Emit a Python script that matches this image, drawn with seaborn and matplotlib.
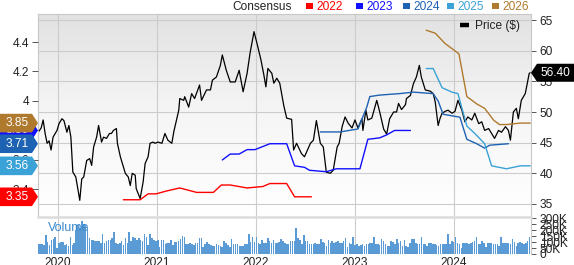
import numpy as np
import matplotlib
matplotlib.use("Agg")
import matplotlib.pyplot as plt
import seaborn as sns
from matplotlib.patches import Polygon, Rectangle
from matplotlib.lines import Line2D
from matplotlib.transforms import IdentityTransform
from matplotlib.ticker import FuncFormatter
from matplotlib.colors import LinearSegmentedColormap

# ---------------- data ----------------
price_year = [2019.80, 2019.83, 2019.85, 2019.87, 2019.89, 2019.91, 2019.93, 2019.95, 2019.99, 2020.01,
              2020.04, 2020.06, 2020.09, 2020.11, 2020.13, 2020.15, 2020.18, 2020.22, 2020.24, 2020.26,
              2020.29, 2020.32, 2020.34, 2020.36, 2020.39, 2020.41, 2020.44, 2020.46, 2020.49, 2020.52,
              2020.54, 2020.56, 2020.59, 2020.60, 2020.63, 2020.65, 2020.68, 2020.71, 2020.73, 2020.75,
              2020.78, 2020.79, 2020.83, 2020.86, 2020.88, 2020.91, 2020.93, 2020.96, 2020.98, 2021.01,
              2021.05, 2021.08, 2021.11, 2021.15, 2021.17, 2021.20, 2021.22, 2021.23, 2021.27, 2021.28,
              2021.32, 2021.35, 2021.38, 2021.43, 2021.45, 2021.50, 2021.54, 2021.56, 2021.60, 2021.64,
              2021.66, 2021.70, 2021.74, 2021.79, 2021.83, 2021.87, 2021.91, 2021.94, 2021.98, 2022.01,
              2022.05, 2022.08, 2022.10, 2022.12, 2022.16, 2022.18, 2022.21, 2022.24, 2022.28, 2022.31,
              2022.36, 2022.38, 2022.41, 2022.46, 2022.49, 2022.55, 2022.58, 2022.61, 2022.65, 2022.68,
              2022.71, 2022.75, 2022.78, 2022.82, 2022.84, 2022.87, 2022.90, 2022.93, 2022.97, 2023.00,
              2023.03, 2023.07, 2023.08, 2023.11, 2023.13, 2023.17, 2023.22, 2023.25, 2023.29, 2023.32,
              2023.35, 2023.39, 2023.42, 2023.44, 2023.47, 2023.51, 2023.52, 2023.56, 2023.59, 2023.62,
              2023.65, 2023.67, 2023.71, 2023.76, 2023.79, 2023.81, 2023.84, 2023.86, 2023.88, 2023.91,
              2023.94, 2023.98, 2024.01, 2024.04, 2024.08, 2024.11, 2024.14, 2024.18, 2024.21, 2024.25,
              2024.28, 2024.31, 2024.35, 2024.38, 2024.41, 2024.45, 2024.48, 2024.52, 2024.55, 2024.57,
              2024.60, 2024.63, 2024.65, 2024.68, 2024.72, 2024.73, 2024.76, 2024.77]
price_value = [46.7, 47.4, 48.7, 46.5, 44.9, 45.3, 43.8, 45.9, 47.0, 48.1,
               48.9, 48.6, 46.7, 47.8, 45.9, 40.2, 39.4, 35.6, 39.1, 39.4,
               42.1, 42.4, 41.3, 44.3, 45.9, 47.8, 45.1, 45.9, 45.7, 46.5,
               46.5, 47.0, 47.3, 44.9, 42.7, 41.6, 40.0, 39.4, 38.0, 40.0,
               39.7, 37.5, 35.9, 38.6, 41.6, 42.7, 44.9, 45.1, 44.9, 45.1,
               44.9, 46.5, 45.4, 44.9, 46.8, 48.9, 50.3, 52.2, 51.9, 52.5,
               50.8, 53.0, 52.2, 54.4, 51.9, 53.6, 53.6, 55.2, 55.7, 57.6,
               59.3, 56.8, 54.9, 54.9, 56.8, 53.3, 56.3, 59.6, 63.1, 61.2,
               58.5, 56.0, 54.1, 57.1, 56.3, 54.7, 55.5, 54.7, 51.1, 49.0,
               48.8, 43.8, 44.9, 43.2, 42.7, 44.9, 45.4, 48.6, 44.9, 44.3,
               40.2, 40.0, 40.5, 44.3, 44.9, 47.6, 49.2, 48.2, 47.4, 48.7,
               47.4, 48.9, 47.0, 50.3, 48.7, 49.0, 51.9, 50.0, 47.2, 46.4,
               48.9, 50.0, 50.0, 51.4, 50.4, 51.2, 52.2, 52.7, 54.6, 55.7,
               57.6, 55.7, 53.6, 53.4, 53.0, 51.7, 47.8, 49.0, 49.8, 50.1,
               50.3, 49.8, 50.1, 51.9, 50.3, 48.4, 49.2, 48.7, 49.8, 48.1,
               48.4, 47.0, 47.3, 46.5, 45.7, 47.0, 46.7, 47.6, 47.0, 45.4,
               50.0, 50.6, 48.9, 51.9, 53.0, 53.8, 56.3, 56.4]

eps_2022_year = [2020.66, 2020.83, 2020.91, 2020.99, 2021.10, 2021.23, 2021.40, 2021.57, 2021.65, 2021.74,
                 2021.91, 2022.07, 2022.14, 2022.31, 2022.39, 2022.56]
eps_2022 = [3.33, 3.33, 3.37, 3.37, 3.39, 3.41, 3.38, 3.38, 3.43, 3.43,
            3.41, 3.42, 3.44, 3.44, 3.35, 3.35]

eps_2023_year = [2021.66, 2021.74, 2021.83, 2021.91, 2021.99, 2022.14, 2022.31, 2022.39, 2022.49, 2022.54,
                 2022.71, 2022.81, 2023.05, 2023.13, 2023.25, 2023.32, 2023.40, 2023.56]
eps_2023 = [3.60, 3.64, 3.64, 3.67, 3.67, 3.71, 3.71, 3.56, 3.55, 3.53,
            3.52, 3.54, 3.54, 3.74, 3.75, 3.77, 3.80, 3.80]

eps_2024_year = [2022.65, 2022.85, 2023.03, 2023.12, 2023.15, 2023.25, 2023.45, 2023.59, 2023.79, 2023.84,
                 2023.89, 2024.06, 2024.13, 2024.23, 2024.31, 2024.36, 2024.55]
eps_2024 = [3.79, 3.79, 3.81, 3.96, 4.03, 4.04, 4.05, 4.06, 4.05, 4.00,
            3.91, 3.89, 3.74, 3.71, 3.68, 3.70, 3.71]

eps_2025_year = [2023.72, 2023.79, 2023.88, 2023.98, 2024.04, 2024.13, 2024.21, 2024.31, 2024.38, 2024.53,
                 2024.67, 2024.77]
eps_2025 = [4.22, 4.22, 4.09, 4.06, 4.05, 3.83, 3.78, 3.71, 3.56, 3.54, 3.56, 3.56]

eps_2026_year = [2023.72, 2023.81, 2023.91, 2023.99, 2024.05, 2024.13, 2024.23, 2024.31, 2024.40, 2024.46,
                 2024.53, 2024.67, 2024.77]
eps_2026 = [4.48, 4.46, 4.39, 4.35, 4.32, 4.03, 3.98, 3.95, 3.87, 3.84, 3.84, 3.85, 3.85]

consensus_labels = ["2022", "2023", "2024", "2025", "2026"]
consensus_colors = ["#ff0000", "#1010ff", "#1e62b4", "#3aa2d6", "#b07a2e"]

volume_start = 2019.80
volume_k = [80, 80, 80, 75, 160, 100, 75, 115, 125, 145, 50, 90, 100, 100, 75, 80, 70, 145, 75, 90,
            200, 240, 215, 275, 255, 240, 215, 130, 115, 115, 110, 105, 105, 90, 165, 90, 105, 115, 115, 130,
            185, 90, 80, 90, 105, 75, 130, 90, 185, 105, 145, 130, 115, 130, 115, 105, 165, 145, 75, 170,
            130, 115, 105, 115, 60, 115,
            115, 80, 95, 90, 115, 75, 100, 100, 110, 125, 150, 140, 85, 80, 90, 85, 75, 95, 95, 135,
            130, 60, 85, 100, 85, 75, 70, 70, 80, 75, 65, 60, 110, 90, 75, 60, 125, 80, 80, 80,
            65, 65, 65, 80, 80, 170, 100, 140, 100, 145, 90, 80, 115, 90, 90, 130, 110, 95, 120, 90,
            90, 100, 125, 110, 90, 80,
            80, 105, 110, 110, 220, 130, 120, 85, 160, 105, 105, 80, 85, 85, 95, 85, 85, 125, 100, 90,
            70, 115, 95, 105, 95, 100, 110, 95, 90, 110, 130, 60, 90, 80, 140, 75, 85, 70, 75, 80,
            70, 85, 80, 95, 90, 140, 80, 80, 75, 125, 110, 85, 70, 70, 110, 100, 80, 125, 95, 110,
            70, 115, 70, 60, 95, 125,
            125, 90, 80, 80, 140, 85, 85, 65, 95, 90, 80, 80, 75, 70, 85, 85, 80, 85, 170, 80,
            105, 100, 145, 90, 85, 50, 95, 90, 90, 80, 95, 100, 105, 140, 85, 85, 110, 95, 60, 90,
            95, 90, 85, 80, 80, 70, 140, 90, 95, 90, 95, 85, 125, 100, 70, 95, 100, 95, 85, 90,
            105, 140, 100]

year_ticks = [2020, 2021, 2022, 2023, 2024]
price_ticks = [35, 40, 45, 50, 55, 60, 65]
eps_ticks = [3.4, 3.6, 3.8, 4.0, 4.2, 4.4]
volume_ticks = [0, 50, 100, 150, 200, 250, 300]
last_price = 56.40

# ---------------- style ----------------
sns.set_style("white")
plt.rcParams["font.family"] = ["Liberation Sans", "DejaVu Sans"]
FS = 8.6
TXT = "#222222"
GRID = "#cccccc"
FRAME = "#c8c8c8"
TICKC = "#555555"

W, H = 574, 265
fig = plt.figure(figsize=(W / 100, H / 100), dpi=100)
L, R = 38 / W, 531 / W
ax = fig.add_axes([L, 1 - 217 / H, R - L, (217 - 14) / H])
axv = fig.add_axes([L, 1 - 254 / H, R - L, (254 - 217) / H], sharex=ax)
ax_eps = ax.twinx()

# background gradient in price panel
cmap = LinearSegmentedColormap.from_list("bg", ["#e2e2e2", "#f6f6f6", "#ffffff"])
ax.imshow(np.linspace(0, 1, 256).reshape(-1, 1), extent=[0, 1, 0, 1], transform=ax.transAxes,
          cmap=cmap, aspect="auto", zorder=-5)

# price line
sns.lineplot(x=price_year, y=price_value, ax=ax, color="black", linewidth=0.9,
             estimator=None, sort=False, legend=False)

# consensus lines
series = [(eps_2022_year, eps_2022), (eps_2023_year, eps_2023), (eps_2024_year, eps_2024),
          (eps_2025_year, eps_2025), (eps_2026_year, eps_2026)]
for (xs, ys), col in zip(series, consensus_colors):
    sns.lineplot(x=xs, y=ys, ax=ax_eps, color=col, linewidth=1.0,
                 estimator=None, sort=False, legend=False)

# volume bars
volume_x = volume_start + np.arange(len(volume_k)) * 7 / 365.25
sns.barplot(x=volume_x, y=volume_k, ax=axv, native_scale=True, errorbar=None,
            color="#5b9bd5", saturation=1, width=0.82, linewidth=0)

# ---------------- axes config ----------------
ax.set_xlim(2019.798, 2024.778)
ax.set_ylim(32.88, 65.98)
ax_eps.set_ylim(3.213, 4.59)
axv.set_ylim(0, 310)

ax.set_xticks(year_ticks)
ax.grid(True, color=GRID, linewidth=0.8)
ax.set_axisbelow(True)
ax.yaxis.tick_right()
ax.set_yticks(price_ticks)
ax.tick_params(axis="y", right=True, left=False, labelright=True, labelleft=False,
               length=3.8, width=0.7, color=TICKC, pad=2.4, labelsize=FS, labelcolor=TXT)
ax.tick_params(axis="x", bottom=False, labelbottom=False)
for s in ["top", "left", "right"]:
    ax.spines[s].set_color(FRAME)
    ax.spines[s].set_linewidth(0.8)
ax.spines["bottom"].set_visible(False)
ax.set_xlabel("")
ax.set_ylabel("")

ax_eps.yaxis.tick_left()
ax_eps.set_yticks(eps_ticks)
ax_eps.yaxis.set_major_formatter(FuncFormatter(lambda v, p: f"{v:g}"))
ax_eps.tick_params(axis="y", left=True, right=False, labelleft=True, labelright=False,
                   length=4.3, width=0.7, color=TICKC, pad=2.0, labelsize=FS, labelcolor=TXT)
for s in ax_eps.spines.values():
    s.set_visible(False)
ax_eps.set_ylabel("")

axv.set_xticks(year_ticks)
axv.set_xticklabels([str(y) for y in year_ticks])
axv.grid(True, axis="x", color=GRID, linewidth=0.8)
axv.grid(False, axis="y")
axv.set_axisbelow(True)
axv.yaxis.tick_right()
axv.set_yticks(volume_ticks)
axv.yaxis.set_major_formatter(FuncFormatter(lambda v, p: "0" if v == 0 else f"{v:g}K"))
axv.tick_params(axis="y", right=True, left=False, labelright=True, labelleft=False,
                length=3.8, width=0.7, color=TICKC, pad=2.4, labelsize=FS, labelcolor=TXT)
axv.tick_params(axis="x", bottom=False, length=0, pad=2.0, labelsize=FS, labelcolor=TXT)
axv.spines["top"].set_color("#dcdcdc")
axv.spines["top"].set_linewidth(1.8)
axv.spines["right"].set_color(FRAME)
axv.spines["right"].set_linewidth(0.8)
axv.spines["left"].set_visible(False)
axv.spines["bottom"].set_visible(False)
axv.set_xlabel("")
axv.set_ylabel("")
axv.set_xlim(2019.798, 2024.778)
axv.text(0.02, 0.70, "Volume", transform=axv.transAxes, color="#3a88cc",
         fontsize=9, va="center", ha="left")

# ---------------- tags ----------------
ID = IdentityTransform()


def left_tag(val, color, z):
    y = ax_eps.transData.transform((2022.0, val))[1]
    h = 9.3
    fig.add_artist(Polygon([(0, y - h), (32, y - h), (38, y), (32, y + h), (0, y + h)],
                           closed=True, transform=ID, facecolor=color, edgecolor="none", zorder=z))
    fig.text(17, y, f"{val:.2f}", transform=ID, color="white", fontsize=FS,
             ha="center", va="center", zorder=z + 0.5)


for k, idx in enumerate([1, 2, 3, 0, 4]):
    left_tag(series[idx][1][-1], consensus_colors[idx], 5 + k)

yp = ax.transData.transform((2024.0, last_price))[1]
fig.add_artist(Polygon([(531, yp), (537, yp + 9), (574, yp + 9), (574, yp - 9), (537, yp - 9)],
                       closed=True, transform=ID, facecolor="black", edgecolor="none", zorder=20))
fig.text(555, yp, f"{last_price:.2f}", transform=ID, color="white", fontsize=FS,
         ha="center", va="center", zorder=21)

# ---------------- legends ----------------
top_base = H - 10
fig.text(232, top_base, "Consensus", transform=ID, color=TXT, fontsize=FS, va="baseline")
legend_x = [306, 356, 403, 447, 492]
for lx, lab, col in zip(legend_x, consensus_labels, consensus_colors):
    fig.add_artist(Rectangle((lx, H - 9), 7, 6.5, transform=ID, facecolor=col, edgecolor="none"))
    fig.text(lx + 10.5, top_base, lab, transform=ID, color=col, fontsize=FS, va="baseline")

fig.add_artist(Line2D([460, 469], [H - 25, H - 25], transform=ID, color="black", linewidth=3.2,
                      solid_capstyle="butt"))
fig.text(475, H - 28.6, "Price ($)", transform=ID, color=TXT, fontsize=FS, va="baseline")

fig.savefig("out.png", dpi=100)
